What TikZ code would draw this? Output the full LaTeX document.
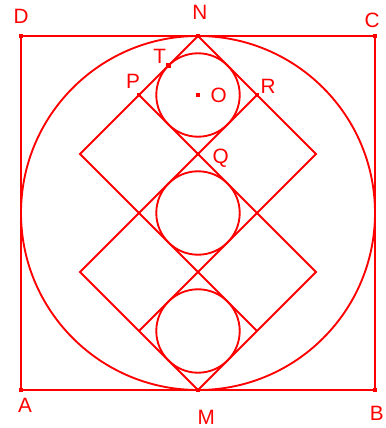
\documentclass[tikz,border=0pt]{standalone}
\usepackage{fontspec}
\setmainfont{Liberation Sans}
\usetikzlibrary{positioning}
\definecolor{figred}{HTML}{FF0000}

\begin{document}
\begin{tikzpicture}[line width=0.9pt, color=figred,
      every node/.style={font=\fontsize{10}{12}\selectfont},
      dot/.style={fill=figred, minimum size=0.07cm, inner sep=0pt},
      lbl/.style={inner sep=0pt, text height=7.2pt, text depth=0pt}]
    \useasboundingbox (-0.356,-0.644) rectangle (6.186,6.610);
    % corners and marked points
    \coordinate (A) at (0,0);
    \coordinate (B) at (6,0);
    \coordinate (C) at (6,6);
    \coordinate (D) at (0,6);
    \coordinate (M) at (3,0);
    \coordinate (N) at (3,6);
    \coordinate (P) at (2,5);
    \coordinate (R) at (4,5);
    \coordinate (Q) at (3,4);
    \coordinate (O) at (3,5);
    \coordinate (T) at (2.5,5.5);
    % other corners of the diamonds
    \coordinate (W1) at (1,4);
    \coordinate (E1) at (5,4);
    \coordinate (W2) at (1,2);
    \coordinate (E2) at (5,2);
    \coordinate (SW) at (2,1);
    \coordinate (SE) at (4,1);
    \coordinate (K1) at (3,3);
    \coordinate (K2) at (3,1);

    \draw (A) -- (B) -- (C) -- (D) -- cycle;
    \draw (K1) circle[radius=3];
    \draw (SE) -- (W1) -- (N) -- (E1) -- (SW);
    \draw (P) -- (E2) -- (M) -- (W2) -- (R);
    \foreach \c in {O,K1,K2}
      \draw (\c) circle[radius=0.7071];

    \foreach \p in {A,B,C,D,M,N,P,R,Q,O,T}
      \node[dot] (d\p) at (\p) {};

    \node[lbl, above=0.19 of D] (lD) {D};
    \node[lbl, above=0.26 of N, xshift=0.03cm] (lN) {N};
    \node[lbl, above=0.12 of C, xshift=-0.05cm] (lC) {C};
    \node[lbl, below=0.12 of A, xshift=0.07cm] (lA) {A};
    \node[lbl, below=0.31 of M, xshift=0.14cm] (lM) {M};
    \node[lbl, below=0.24 of B, xshift=0.03cm] (lB) {B};
    \node[lbl, above=0.01 of T, xshift=-0.15cm] (lT) {T};
    \node[lbl, above=0.09 of P, xshift=-0.10cm] (lP) {P};
    \node[lbl, above=0.01 of R, xshift=0.19cm] (lR) {R};
    \node[lbl, right=0.20 of O] (lO) {O};
    \node[lbl, right=0.23 of Q, yshift=-0.03cm] (lQ) {Q};
  \end{tikzpicture}
\end{document}
